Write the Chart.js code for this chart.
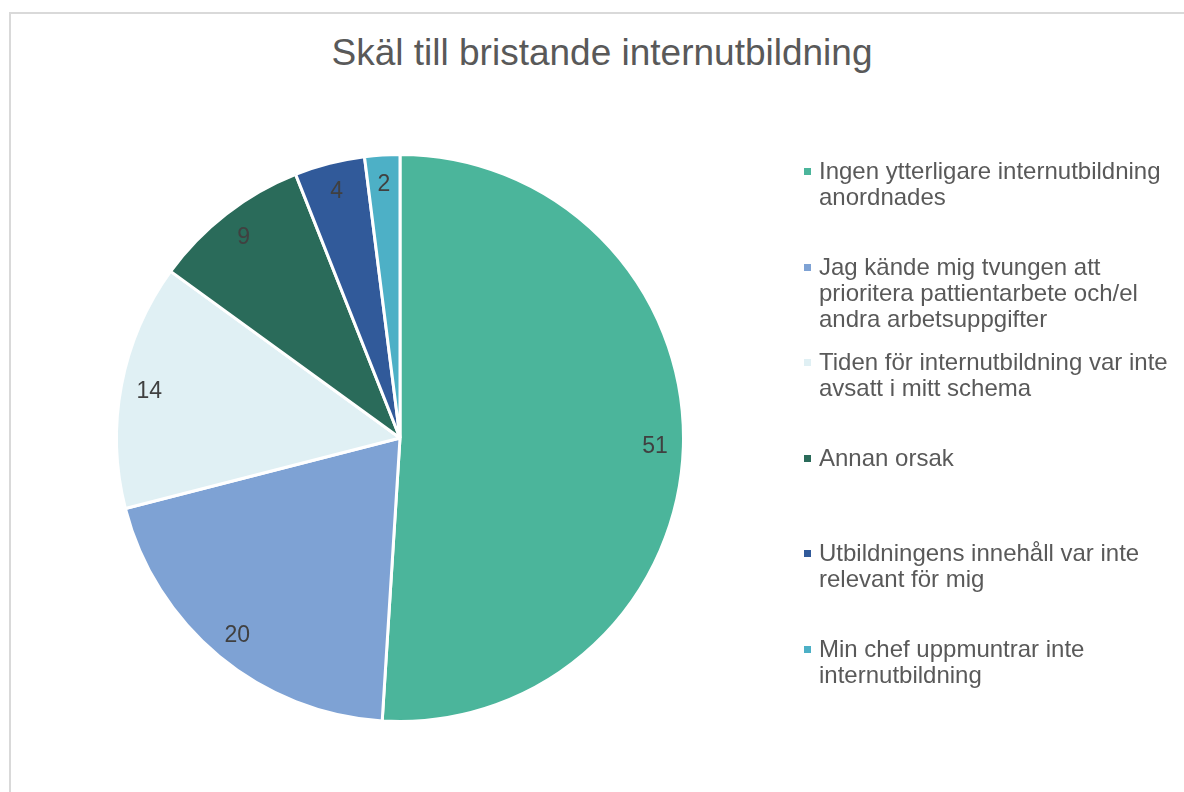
<!DOCTYPE html>
<html>
<head>
<meta charset="utf-8">
<script src="https://cdn.jsdelivr.net/npm/chart.js@4"></script>
<style>
  html, body { margin: 0; padding: 0; background: #fff; }
  body { width: 1184px; height: 792px; position: relative; overflow: hidden; font-family: "Liberation Sans", Arial, sans-serif; }
  #frame { position: absolute; left: 9px; top: 12px; width: 1200px; height: 800px; border: 2px solid #d9d9d9; box-sizing: border-box; }
  #title { position: absolute; left: 0; width: 1204px; top: 33px; line-height: 40px; text-align: center; font-size: 37px; color: #595959; }
  #chartBox { position: absolute; left: 0; top: 0; width: 1184px; height: 792px; }
  #legend { position: absolute; left: 803px; top: 158px; width: 372px; }
  .item { height: 95.6px; position: relative; }
  .box { position: absolute; left: 1px; top: 10px; width: 7px; height: 7px; }
  .txt { margin-left: 16px; font-size: 24px; line-height: 26px; color: #595959; }
</style>
</head>
<body>
<div id="frame"></div>
<div id="title">Skäl till bristande internutbildning</div>
<div id="chartBox"><canvas id="pieChart"></canvas></div>
<div id="legend"></div>
<script>
// Data
const categories = [
  "Ingen ytterligare internutbildning anordnades",
  "Jag kände mig tvungen att prioritera pattientarbete och/el andra arbetsuppgifter",
  "Tiden för internutbildning var inte avsatt i mitt schema",
  "Annan orsak",
  "Utbildningens innehåll var inte relevant för mig",
  "Min chef uppmuntrar inte internutbildning"
];
const values = [51, 20, 14, 9, 4, 2];
const sliceColors = ["#4bb59b", "#7ea2d4", "#e0f0f4", "#2a6b5a", "#315a9a", "#4db0c6"];

// Build legend
const legendEl = document.querySelector("#legend");
categories.forEach(function (name, i) {
  const item = document.createElement("div");
  item.className = "item";
  const box = document.createElement("div");
  box.className = "box";
  box.style.background = sliceColors[i];
  const txt = document.createElement("div");
  txt.className = "txt";
  txt.textContent = name;
  item.appendChild(box);
  item.appendChild(txt);
  legendEl.appendChild(item);
});

// Draw value labels inside the slices
const sliceLabels = {
  id: "sliceLabels",
  afterDatasetsDraw(chart) {
    const ctx = chart.ctx;
    const meta = chart.getDatasetMeta(0);
    ctx.save();
    ctx.font = "23px 'Liberation Sans', Arial, sans-serif";
    ctx.fillStyle = "#404040";
    ctx.textAlign = "center";
    ctx.textBaseline = "middle";
    meta.data.forEach(function (arc, i) {
      const p = arc.getProps(["x", "y", "startAngle", "endAngle", "outerRadius"], true);
      const mid = (p.startAngle + p.endAngle) / 2;
      const r = p.outerRadius * 0.9;
      ctx.fillText(String(values[i]), p.x + Math.cos(mid) * r, p.y + Math.sin(mid) * r + 1);
    });
    ctx.restore();
  }
};

const ctx = document.querySelector("#pieChart").getContext("2d");
const pieChart = new Chart(ctx, {
  type: "pie",
  data: {
    labels: categories,
    datasets: [{
      data: values,
      backgroundColor: sliceColors,
      borderColor: "#ffffff",
      borderWidth: 3
    }]
  },
  options: {
    responsive: true,
    maintainAspectRatio: false,
    animation: false,
    layout: { padding: { left: 115, top: 153, right: 499, bottom: 69 } },
    plugins: {
      legend: { display: false },
      tooltip: { enabled: false },
      title: { display: false }
    }
  },
  plugins: [sliceLabels]
});
</script>
</body>
</html>
